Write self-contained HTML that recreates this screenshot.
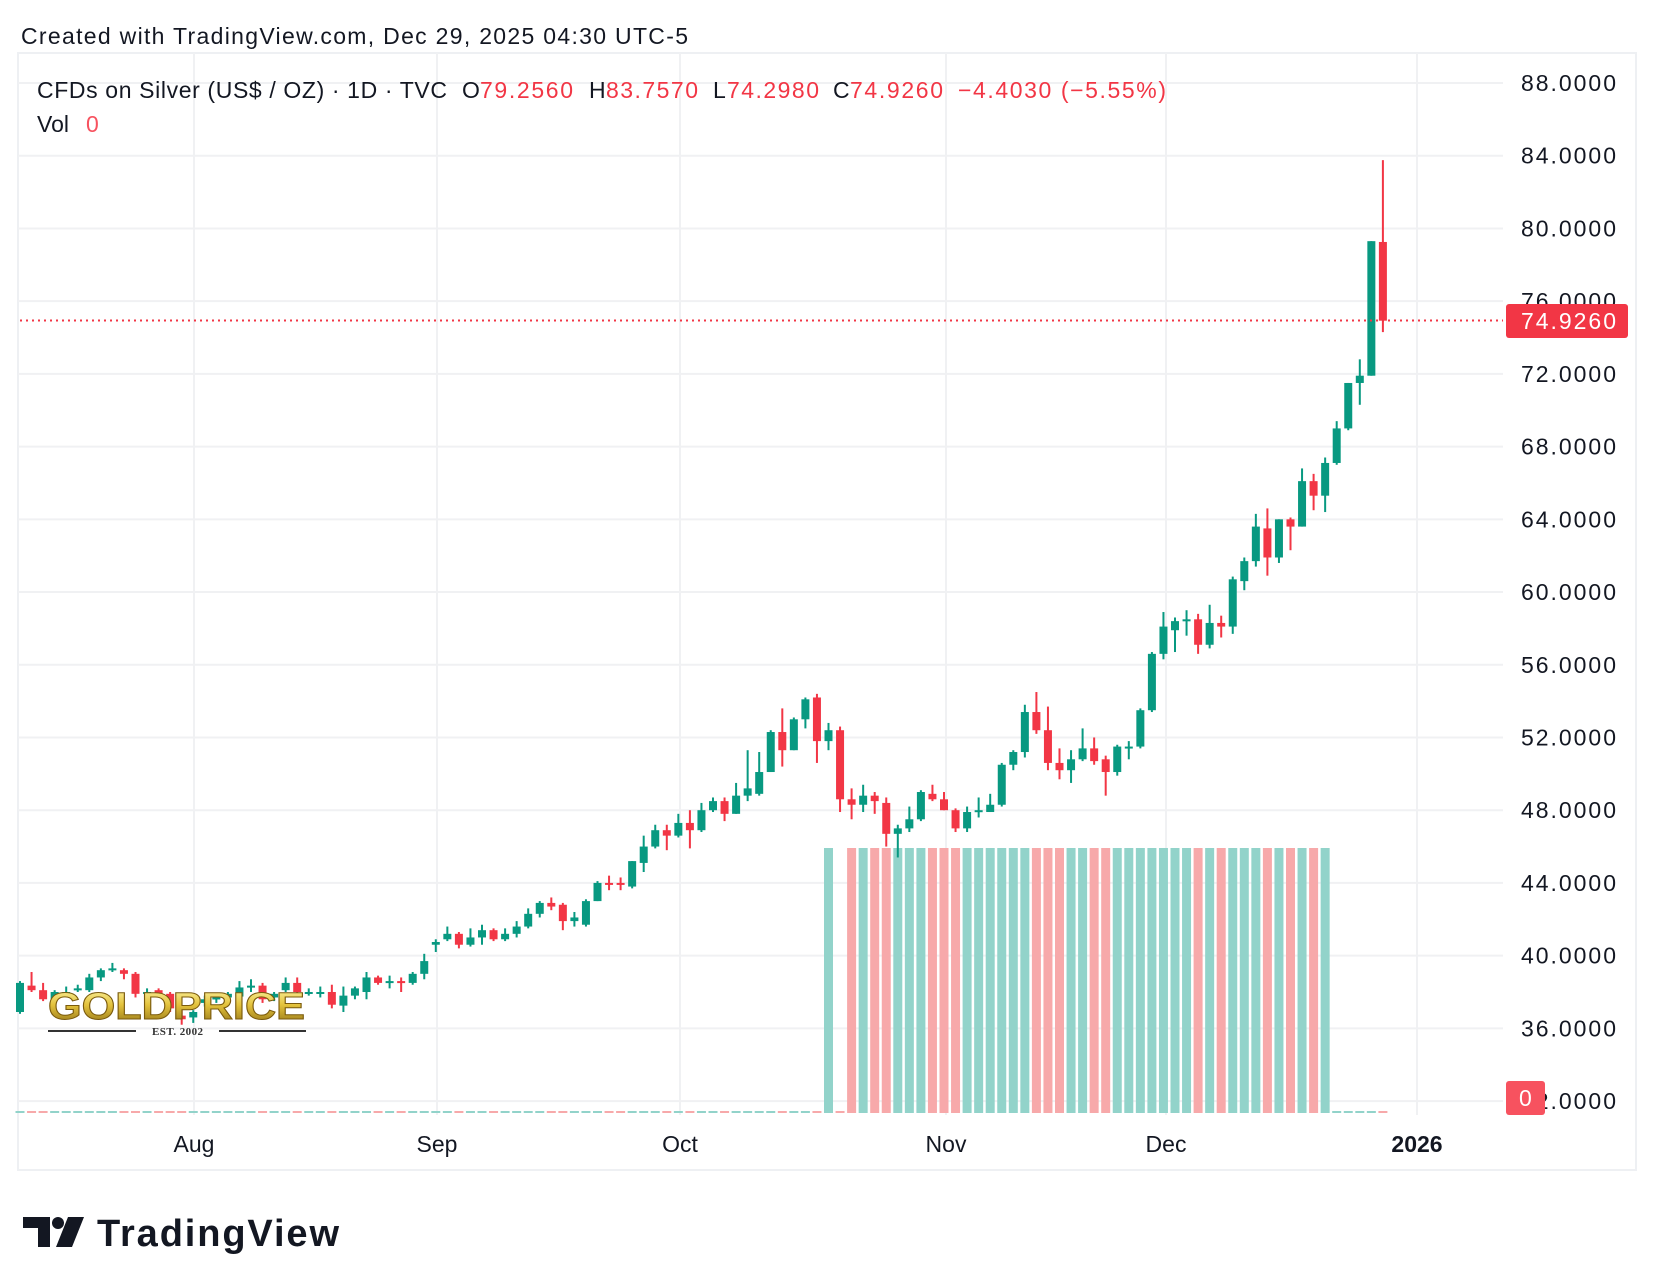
<!DOCTYPE html>
<html><head><meta charset="utf-8"><style>
html,body{margin:0;padding:0;background:#fff;}
svg{display:block;}
text{font-family:"Liberation Sans",sans-serif;}
</style></head><body>
<svg id="c" width="1656" height="1288" viewBox="0 0 1656 1288" xmlns="http://www.w3.org/2000/svg">
<defs>
<linearGradient id="gold" x1="0" y1="0" x2="0" y2="1">
<stop offset="0" stop-color="#fff7a8"/><stop offset="0.45" stop-color="#e3c23c"/><stop offset="1" stop-color="#8a6a12"/>
</linearGradient>
</defs>
<rect width="1656" height="1288" fill="#fff"/>
<text x="21" y="44" font-size="23" fill="#131722" textLength="667">Created with TradingView.com, Dec 29, 2025 04:30 UTC-5</text>
<rect x="18" y="53" width="1618" height="1117" fill="none" stroke="#eef0f3" stroke-width="2"/>
<g id="grid" stroke="#f0f1f3" stroke-width="2"></g>
<g id="vol"></g>
<g id="cand"></g>
<line x1="20" y1="320.5" x2="1503" y2="320.5" stroke="#f23645" stroke-width="2" stroke-dasharray="2 4"/>
<g id="ylab" font-size="23" fill="#131722"></g>
<rect x="1506" y="304" width="122" height="34" rx="3" fill="#f23645"/>
<text x="1521" y="329" font-size="23" fill="#fff" textLength="95">74.9260</text>
<rect x="1506" y="1081" width="39" height="34" rx="3" fill="#f7525f"/>
<text x="1519" y="1106" font-size="23" fill="#fff">0</text>
<g font-size="23" fill="#131722" text-anchor="middle">
<text x="194" y="1152">Aug</text><text x="437" y="1152">Sep</text><text x="680" y="1152">Oct</text>
<text x="946" y="1152">Nov</text><text x="1166" y="1152">Dec</text>
<text x="1417" y="1152" font-weight="bold">2026</text>
</g>
<g font-size="23">
<text x="37" y="98" fill="#131722" textLength="410">CFDs on Silver (US$ / OZ) · 1D · TVC</text>
<text x="462" y="98" fill="#131722">O</text><text x="480" y="98" fill="#f23645" textLength="93">79.2560</text>
<text x="589" y="98" fill="#131722">H</text><text x="606" y="98" fill="#f23645" textLength="92">83.7570</text>
<text x="713" y="98" fill="#131722">L</text><text x="727" y="98" fill="#f23645" textLength="92">74.2980</text>
<text x="833" y="98" fill="#131722">C</text><text x="850" y="98" fill="#f23645" textLength="93">74.9260</text>
<text x="958" y="98" fill="#f23645" textLength="208">−4.4030 (−5.55%)</text>
<text x="37" y="132" fill="#131722">Vol</text><text x="86" y="132" fill="#f7525f">0</text>
</g>
<g>
<text x="48" y="1019" font-size="38" font-weight="bold" fill="url(#gold)" stroke="#7a5a0c" stroke-width="1" textLength="257" lengthAdjust="spacingAndGlyphs">GOLDPRICE</text>
<line x1="48" y1="1031" x2="136" y2="1031" stroke="#333" stroke-width="2"/>
<line x1="219" y1="1031" x2="306" y2="1031" stroke="#333" stroke-width="2"/>
<text x="152" y="1035" font-family="Liberation Serif" font-size="11" font-weight="bold" fill="#333" textLength="51" style="font-family:'Liberation Serif',serif">EST. 2002</text>
</g>
<g fill="#131722">
<path d="M23 1217 H50 V1247 H38 V1228 H23 Z"/>
<circle cx="58" cy="1223" r="6"/>
<path d="M68 1217 H84 L72 1247 H56 Z"/>
<text x="97" y="1246" font-size="38" font-weight="bold" textLength="242">TradingView</text>
</g>
</svg>
<script>
const d=[
[36.9,38.6,36.8,38.5],[38.35,39.1,38.0,38.1],[38.1,38.5,37.5,37.6],[37.6,38.1,37.4,38.0],[37.9,38.3,37.8,38.0],
[38.15,38.4,38.0,38.2],[38.1,39.0,38.0,38.8],[38.8,39.3,38.6,39.2],[39.25,39.6,39.1,39.3],[39.2,39.3,38.7,39.0],
[39.0,39.1,37.7,37.9],[37.95,38.2,37.8,38.0],[38.1,38.2,37.7,37.9],[37.9,38.0,36.9,37.1],[36.7,37.0,36.2,36.5],
[36.6,37.0,36.3,36.9],[37.4,37.8,37.2,37.6],[37.6,37.9,37.4,37.7],[37.7,38.0,37.5,37.9],[37.75,38.6,37.6,38.25],
[38.3,38.7,38.0,38.35],[38.35,38.5,37.4,37.6],[37.7,38.0,37.5,37.9],[38.1,38.8,38.0,38.5],[38.5,38.8,37.9,38.0],
[37.95,38.2,37.8,38.0],[37.95,38.3,37.7,38.0],[38.0,38.4,37.1,37.3],[37.25,38.3,36.9,37.8],[37.8,38.3,37.6,38.2],
[38.0,39.1,37.6,38.8],[38.8,38.9,38.4,38.5],[38.55,38.9,38.2,38.6],[38.6,38.8,38.0,38.5],[38.5,39.1,38.4,39.0],
[39.0,40.1,38.7,39.7],[40.6,40.9,40.2,40.75],[40.9,41.6,40.8,41.2],[41.2,41.3,40.4,40.6],[40.6,41.5,40.5,41.0],
[41.0,41.7,40.6,41.4],[41.4,41.5,40.8,40.9],[40.9,41.5,40.8,41.2],[41.2,41.9,41.0,41.6],[41.6,42.6,41.5,42.3],
[42.3,43.0,42.1,42.9],[42.9,43.2,42.5,42.7],[42.8,42.9,41.4,41.9],[41.9,42.4,41.6,42.1],[41.7,43.1,41.6,43.0],
[43.0,44.1,43.0,44.0],[44.0,44.4,43.6,43.95],[44.0,44.3,43.6,43.9],[43.8,45.2,43.7,45.2],[45.1,46.6,44.6,46.0],
[46.0,47.2,45.9,46.9],[46.9,47.2,45.8,46.6],[46.6,47.8,46.5,47.3],[47.3,48.0,45.9,46.9],[46.9,48.4,46.8,48.0],
[48.0,48.7,47.9,48.5],[48.5,48.7,47.4,47.8],[47.8,49.5,47.8,48.8],[48.8,51.3,48.5,49.2],[48.9,51.2,48.8,50.1],
[50.1,52.4,50.1,52.3],[52.3,53.6,50.4,51.3],[51.3,53.1,51.3,53.0],[53.0,54.2,52.5,54.1],[54.2,54.4,50.6,51.8],
[51.8,52.8,51.3,52.4],[52.4,52.6,47.9,48.6],[48.6,49.2,47.5,48.3],[48.3,49.4,47.9,48.8],[48.8,49.0,47.8,48.5],
[48.4,48.7,46.0,46.7],[46.7,47.2,45.4,47.0],[47.0,48.2,46.8,47.5],[47.5,49.1,47.4,49.0],[48.9,49.4,48.5,48.6],
[48.6,49.0,48.0,48.0],[48.0,48.1,46.8,47.0],[47.0,48.2,46.8,47.9],[47.95,48.7,47.6,48.0],[47.9,48.9,47.9,48.3],
[48.3,50.6,48.2,50.5],[50.5,51.3,50.2,51.2],[51.2,53.8,50.9,53.4],[53.4,54.5,52.2,52.4],[52.4,53.7,50.2,50.6],
[50.6,51.4,49.7,50.2],[50.2,51.3,49.5,50.8],[50.8,52.5,50.7,51.4],[51.4,52.0,50.5,50.7],[50.8,51.0,48.8,50.1],
[50.1,51.6,49.9,51.5],[51.45,51.8,50.8,51.5],[51.5,53.6,51.4,53.5],[53.5,56.7,53.4,56.6],[56.6,58.9,56.3,58.1],
[57.9,58.6,56.7,58.4],[58.45,59.0,57.6,58.5],[58.5,58.8,56.6,57.1],[57.1,59.3,56.9,58.3],[58.3,58.7,57.5,58.1],
[58.1,60.85,57.7,60.7],[60.6,61.9,60.1,61.7],[61.7,64.3,61.4,63.6],[63.5,64.6,60.9,61.9],[61.9,64.0,61.6,64.0],
[64.0,64.1,62.3,63.6],[63.6,66.8,63.6,66.1],[66.1,66.5,64.5,65.3],[65.3,67.4,64.4,67.1],[67.1,69.4,67.0,69.0],
[69.0,71.5,68.9,71.5],[71.5,72.8,70.3,71.9],[71.9,79.3,71.9,79.3],[79.256,83.757,74.298,74.926]];
const NS="http://www.w3.org/2000/svg";
function el(p,t,a){const e=document.createElementNS(NS,t);for(const k in a)e.setAttribute(k,a[k]);p.appendChild(e);return e;}
const Y=v=>83+(88-v)*18.18;
const g=document.getElementById('grid'),yl=document.getElementById('ylab');
for(let v=88;v>=32;v-=4){const y=Y(v);el(g,'line',{x1:18,y1:y,x2:1503,y2:y});
 const t=el(yl,'text',{x:1521,y:y+8,textLength:95});t.textContent=v.toFixed(4);}
[194,437,680,946,1166,1417].forEach(x=>el(g,'line',{x1:x,y1:53,x2:x,y2:1115}));
const cg=document.getElementById('cand'),vg=document.getElementById('vol');
d.forEach((c,i)=>{const x=20+11.55*i;const up=c[3]>=c[0];const col=up?'#089981':'#f23645';
 el(cg,'rect',{x:x-1,y:Y(c[1]),width:2,height:Math.max(1,Y(c[2])-Y(c[1])),fill:col});
 const top=Y(Math.max(c[0],c[3])),bot=Y(Math.min(c[0],c[3]));
 el(cg,'rect',{x:x-4,y:top,width:8,height:Math.max(2,bot-top),fill:col});
 const vc=up?'#92d3ca':'#f7a9aa';
 if(i===70||(i>=72&&i<=113)) el(vg,'rect',{x:x-4.5,y:848,width:9,height:265,fill:vc});
 else el(vg,'rect',{x:x-4.5,y:1111,width:9,height:2,fill:vc});
});
</script>
</body></html>
